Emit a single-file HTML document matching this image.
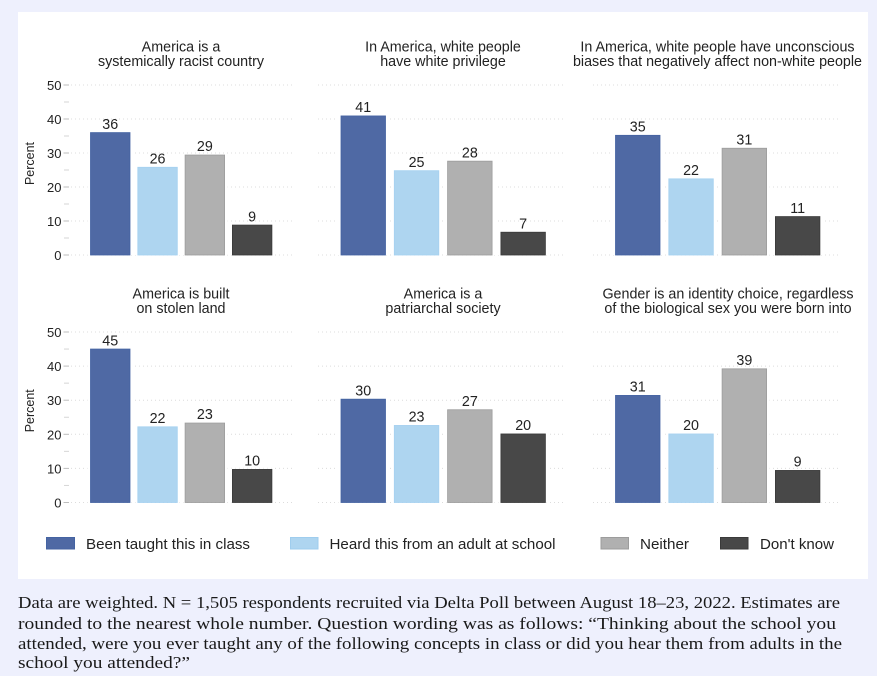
<!DOCTYPE html>
<html lang="en">
<head>
<meta charset="utf-8">
<title>Concepts taught in class</title>
<style>
html,body{margin:0;padding:0;background:#eef0fd;}
body{width:877px;height:676px;overflow:hidden;}
svg{display:block;filter:blur(0.3px);}
.sans{font-family:"Liberation Sans",sans-serif;fill:#222;}
.serif{font-family:"Liberation Serif",serif;fill:#1a1a1a;font-size:17.2px;}
</style>
</head>
<body>
<svg id="chart" xmlns="http://www.w3.org/2000/svg" width="877" height="676" viewBox="0 0 877 676">
  <rect x="18" y="12" width="850" height="567" fill="#ffffff"/>
  <g id="panels"></g>
  <g class="sans" font-size="14.5">
    <g>
      <rect x="46.5" y="537.5" width="28" height="11.5" fill="#4f69a4" stroke="#4463a2"/>
      <text x="86" y="549" textLength="164" lengthAdjust="spacingAndGlyphs">Been taught this in class</text>
    </g>
    <g>
      <rect x="290.5" y="537.5" width="27.5" height="11.5" fill="#aed5f0" stroke="#9fcdee"/>
      <text x="329.5" y="549" textLength="226" lengthAdjust="spacingAndGlyphs">Heard this from an adult at school</text>
    </g>
    <g>
      <rect x="601" y="537.5" width="27.5" height="11.5" fill="#b0b0b0" stroke="#9c9c9c"/>
      <text x="640" y="549" textLength="49" lengthAdjust="spacingAndGlyphs">Neither</text>
    </g>
    <g>
      <rect x="720.5" y="537.5" width="27.5" height="11.5" fill="#484848" stroke="#3a3a3a"/>
      <text x="760" y="549" textLength="74" lengthAdjust="spacingAndGlyphs">Don't know</text>
    </g>
  </g>
  <g class="serif">
    <text x="18" y="608" textLength="822" lengthAdjust="spacingAndGlyphs">Data are weighted. N = 1,505 respondents recruited via Delta Poll between August 18–23, 2022. Estimates are</text>
    <text x="18" y="629" textLength="818" lengthAdjust="spacingAndGlyphs">rounded to the nearest whole number. Question wording was as follows: “Thinking about the school you</text>
    <text x="18" y="649" textLength="824" lengthAdjust="spacingAndGlyphs">attended, were you ever taught any of the following concepts in class or did you hear them from adults in the</text>
    <text x="18" y="668" textLength="172" lengthAdjust="spacingAndGlyphs">school you attended?”</text>
  </g>
</svg>
<script>
var categories = ["Been taught this in class", "Heard this from an adult at school", "Neither", "Don't know"];
var panelTitles = [
  ["America is a", "systemically racist country"],
  ["In America, white people", "have white privilege"],
  ["In America, white people have unconscious", "biases that negatively affect non-white people"],
  ["America is built", "on stolen land"],
  ["America is a", "patriarchal society"],
  ["Gender is an identity choice, regardless", "of the biological sex you were born into"]
];
var racistCountry = [36, 25.8, 29.4, 8.8];
var whitePrivilege = [40.9, 24.8, 27.6, 6.7];
var unconsciousBiases = [35.2, 22.4, 31.4, 11.3];
var stolenLand = [45, 22.2, 23.3, 9.7];
var patriarchalSociety = [30.3, 22.6, 27.2, 20.1];
var genderChoice = [31.4, 20.1, 39.2, 9.4];
var panelValues = [racistCountry, whitePrivilege, unconsciousBiases, stolenLand, patriarchalSociety, genderChoice];
var majorTicks = [0, 10, 20, 30, 40, 50];
var minorTicks = [5, 15, 25, 35, 45];

var NS = "http://www.w3.org/2000/svg";
var fills = ["#4f69a4", "#aed5f0", "#b0b0b0", "#484848"];
var strokes = ["#4463a2", "#a6d1f0", "#9c9c9c", "#3a3a3a"];
var seriesKeys = ["taught", "heard", "neither", "dont-know"];
var titleCenters = [181, 443, 717.5, 181, 443, 728];
var rows = [{zero: 255, top: 85}, {zero: 502.5, top: 332}];
var columns = [
  {left: 71, right: 293, first: 90.5, width: 39.5, step: 47.3, axis: true},
  {left: 318, right: 565, first: 341, width: 44.5, step: 53.3, axis: false},
  {left: 593, right: 840, first: 615.5, width: 44.5, step: 53.3, axis: false}
];
function make(parent, tag, attrs, text) {
  var el = document.createElementNS(NS, tag);
  for (var k in attrs) { el.setAttribute(k, attrs[k]); }
  if (text !== undefined) { el.textContent = text; }
  parent.appendChild(el);
  return el;
}
function yScale(row, v) { return row.zero - (row.zero - row.top) * v / 50; }
function xScale(col, i) { return col.first + col.step * i; }

var root = document.getElementById("panels");
panelValues.forEach(function (values, p) {
  var row = rows[Math.floor(p / 3)];
  var col = columns[p % 3];
  var g = make(root, "g", {});
  
  

  panelTitles[p].forEach(function (line, li) {
    var t = make(g, "text", {"class": "sans", x: titleCenters[p], y: row.top - 33.5 + li * 14.5, "text-anchor": "middle", "font-size": "14.3"}, line);
    
    
  });

  majorTicks.forEach(function (v) {
    var y = yScale(row, v);
    var grid = make(g, "line", {x1: col.left, x2: col.right, y1: y, y2: y, stroke: "#dcdcdc", "stroke-width": "1", "stroke-dasharray": "1 3"});
    
    
    if (col.axis) {
      var tick = make(g, "line", {x1: 63.5, x2: 69, y1: y, y2: y, stroke: "#bdbdbd", "stroke-width": "1"});
      
      
      var lab = make(g, "text", {"class": "sans", x: 61.5, y: y + 5, "text-anchor": "end", "font-size": "13"}, String(v));
      
      
    }
  });
  if (col.axis) {
    minorTicks.forEach(function (v) {
      var y = yScale(row, v);
      var tick = make(g, "line", {x1: 64, x2: 69, y1: y, y2: y, stroke: "#d6d6d6", "stroke-width": "1"});
      
      
    });
    var cy = (row.zero + row.top) / 2 - 6.5;
    var title = make(g, "text", {"class": "sans", x: 0, y: 0, "text-anchor": "middle", "font-size": "12.5", transform: "translate(34 " + cy + ") rotate(-90)"}, "Percent");
    
    
  }

  values.forEach(function (v, i) {
    var x = xScale(col, i);
    var y = yScale(row, v);
    var halo = make(g, "rect", {x: x - 3, y: y - 1, width: col.width + 6, height: row.zero - y + 1, fill: "#ffffff"});
    
    
    var bar = make(g, "rect", {x: x, y: y, width: col.width, height: row.zero - y, fill: fills[i], stroke: strokes[i], "stroke-width": "0.8"});
    
    
    var title = make(bar, "title", {}, categories[i]);
    var lab = make(g, "text", {"class": "sans", x: x + col.width / 2, y: y - 3.8, "text-anchor": "middle", "font-size": "14.3"}, String(Math.round(v)));
    
    
  });
});
</script>
</body>
</html>
